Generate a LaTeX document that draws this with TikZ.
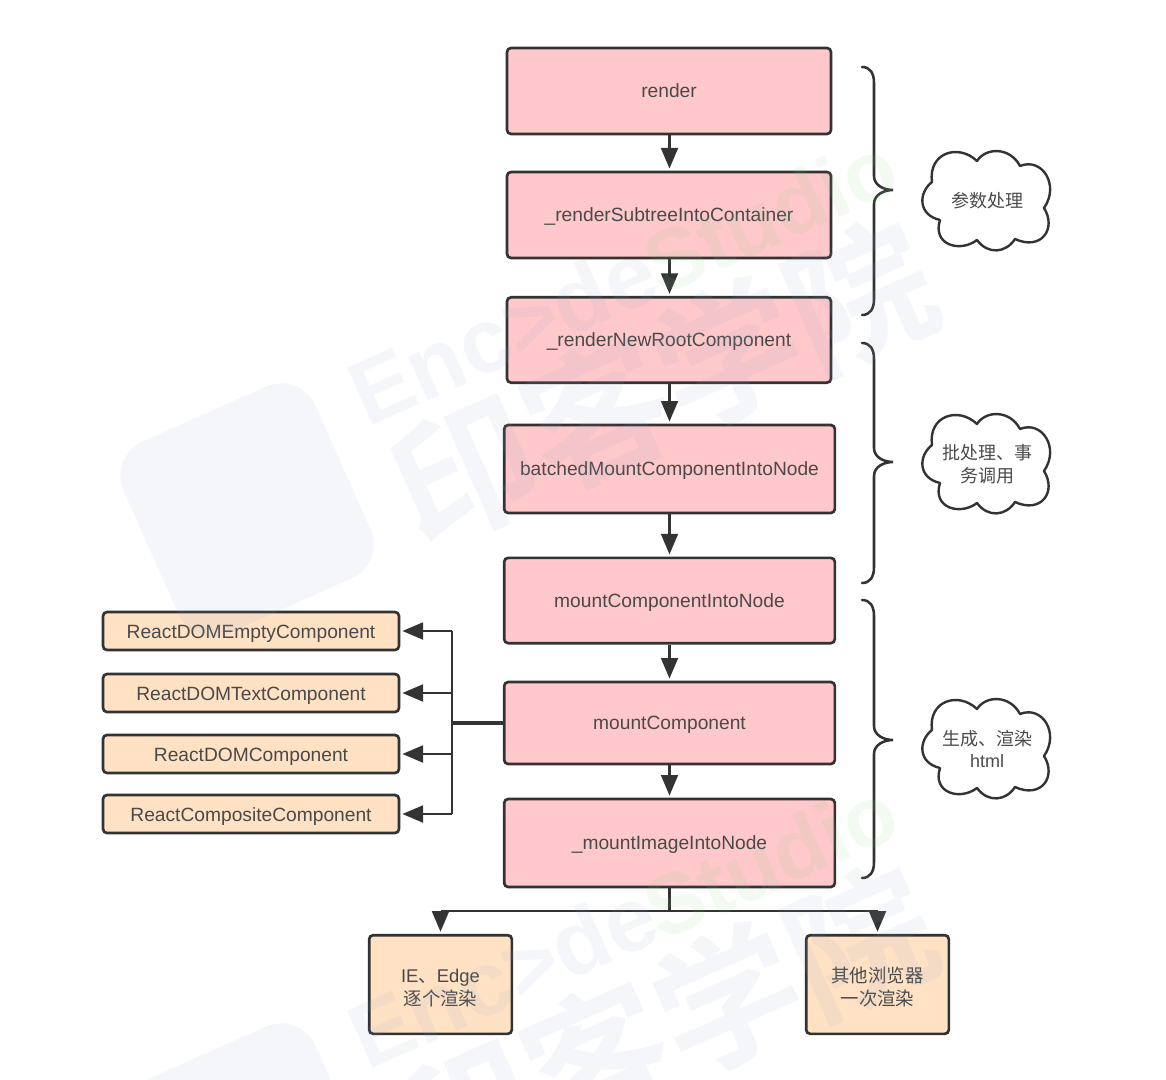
\documentclass[tikz,border=0pt]{standalone}
\usepackage{fontspec}
\setmainfont{Liberation Sans}
\newfontfamily\cjkf{Noto Sans CJK SC}
\newfontfamily\cjkb{Noto Sans CJK SC Bold}
\usetikzlibrary{arrows.meta}
\definecolor{pinkf}{HTML}{FFC8CA}
\definecolor{orangef}{HTML}{FFE1C4}
\definecolor{lne}{HTML}{333333}
\definecolor{txt}{HTML}{4A4A4A}
\definecolor{wmb}{HTML}{8FAACF}
\definecolor{wmg}{HTML}{7CCB84}
\tikzset{
  pinkbox/.style={draw=lne,line width=2pt,fill=pinkf,rounded corners=3pt,text=txt,font=\fontsize{14.4pt}{17pt}\selectfont,inner sep=0pt,text height=10.4pt,text depth=0pt},
  orangebox/.style={draw=lne,line width=2pt,fill=orangef,rounded corners=3pt,text=txt,font=\fontsize{14.4pt}{17pt}\selectfont,inner sep=0pt,text height=11.8pt,text depth=0pt},
  choicebox/.style={draw=lne,line width=2pt,fill=orangef,rounded corners=3pt,text=txt,font=\fontsize{13.8pt}{17pt}\selectfont,inner sep=0pt,align=center},
  conn/.style={draw=lne,line width=2.2pt},
  thickconn/.style={draw=lne,line width=2.6pt},
  arr/.style={conn,-{Triangle[length=15.5pt,width=12.5pt]},shorten >=1.5pt},
  bracesty/.style={draw=lne,line width=1.9pt,line cap=round},
  cloudsty/.style={draw=lne,line width=1.8pt,line join=round},
  cloudtext/.style={text=txt,inner sep=0pt,align=center,font=\fontsize{13.5pt}{17pt}\selectfont},
  wmen/.style={text=wmb,text opacity=0.1,font=\fontsize{68pt}{68pt}\selectfont\bfseries,rotate=24,inner sep=0pt},
  wmgr/.style={text=wmg,text opacity=0.1,font=\fontsize{64pt}{64pt}\selectfont\bfseries,rotate=24,inner sep=0pt},
  wmcn/.style={text=wmb,text opacity=0.1,font=\fontsize{108pt}{108pt}\selectfont\cjkb,rotate=24,inner sep=0pt},
}
\begin{document}
\begin{tikzpicture}[x=0.75pt,y=-0.75pt]
\useasboundingbox (0,0) rectangle (1166,1080);

\node[pinkbox,minimum width=243pt,minimum height=64.5pt] (a) at (669,91) {render};
\node[pinkbox,minimum width=243pt,minimum height=64.5pt] (b) at (669,215) {\_renderSubtreeIntoContainer};
\node[pinkbox,minimum width=243pt,minimum height=64pt] (c) at (669,340) {\_renderNewRootComponent};
\node[pinkbox,minimum width=248pt,minimum height=66pt] (d) at (669.5,469) {batchedMountComponentIntoNode};
\node[pinkbox,minimum width=248pt,minimum height=64pt] (e) at (669.5,600.5) {mountComponentIntoNode};
\node[pinkbox,minimum width=248pt,minimum height=61.5pt] (f) at (669.5,723) {mountComponent};
\node[pinkbox,minimum width=248pt,minimum height=66pt] (g) at (669.5,843) {\_mountImageIntoNode};

\node[orangebox,minimum width=222pt,minimum height=28.5pt] (l1) at (251,631) {ReactDOMEmptyComponent};
\node[orangebox,minimum width=222pt,minimum height=28.5pt] (l2) at (251,693) {ReactDOMTextComponent};
\node[orangebox,minimum width=222pt,minimum height=28.5pt] (l3) at (251,754) {ReactDOMComponent};
\node[orangebox,minimum width=222pt,minimum height=28.5pt] (l4) at (251,814) {ReactCompositeComponent};

\node[choicebox,minimum width=107pt,minimum height=74pt] (ie) at (440.5,984.5) {\rule{0pt}{15pt}IE{\cjkf 、}Edge\\{\cjkf 逐个渲染}};
\node[choicebox,minimum width=107pt,minimum height=74pt] (ot) at (877.5,984.5) {\rule{0pt}{15pt}{\cjkf 其他浏览器}\\{\cjkf 一次渲染}};

\foreach \s/\t in {a/b,b/c,c/d,d/e,e/f,f/g}
  \draw[arr] (\s.south -| 669.5,0) -- (\t.north -| 669.5,0);

\coordinate (trunk) at (452,723);
\coordinate (split) at (669.5,911);
\draw[thickconn] (f.west) -- (trunk);
\draw[conn] (trunk |- l1.east) -- (trunk |- l4.east);
\foreach \t in {l1,l2,l3,l4}
  \draw[arr] (trunk |- \t.east) -- (\t.east);
\draw[conn] (g.south -| split) -- (split);
\draw[conn] (ie.north |- split) -- (ot.north |- split);
\draw[arr] (ie.north |- split) -- (ie.north);
\draw[arr] (ot.north |- split) -- (ot.north);

\coordinate (b1a) at (862,67); \coordinate (b1t) at (893,190); \coordinate (b1b) at (862,315);
\coordinate (b2a) at (862,343); \coordinate (b2t) at (893,462); \coordinate (b2b) at (862,583);
\coordinate (b3a) at (862,600); \coordinate (b3t) at (893,740); \coordinate (b3b) at (862,878);
\foreach \p in {b1,b2,b3}{
  \draw[bracesty] (\p a) .. controls +(8,0) and +(0,-10) .. ([shift={(12,16)}]\p a)
     -- ([shift={(-19,-14)}]\p t) .. controls +(0,10) and +(-8,0) .. (\p t)
     .. controls +(-8,0) and +(0,-10) .. ([shift={(-19,14)}]\p t)
     -- ([shift={(12,-16)}]\p b) .. controls +(0,10) and +(8,0) .. (\p b);
}

\foreach \cx/\cy in {986/201,986/464,986/749}{
  \draw[cloudsty,shift={(\cx,\cy)}] (-46,19)
    .. controls (-68,14) and (-68,-8) .. (-54,-19)
    .. controls (-58,-48) and (-28,-58) .. (-9,-40)
    .. controls (0,-54) and (24,-54) .. (34,-35)
    .. controls (56,-44) and (74,-16) .. (58,7)
    .. controls (71,28) and (55,50) .. (29,38)
    .. controls (20,52) and (2,54) .. (-9,39)
    .. controls (-26,52) and (-54,44) .. (-46,19) -- cycle;
}
\node[cloudtext] (c1) at (987,201) {{\cjkf 参数处理}};
\node[cloudtext] (c2) at (987,464) {{\cjkf 批处理、事}\\{\cjkf 务调用}};
\node[cloudtext] (c3) at (987,749) {{\cjkf 生成、渲染}\\html};

\begin{scope}
\clip (0,0) rectangle (1166,1080);
\fill[wmb,opacity=0.1,rounded corners=28pt,rotate around={24:(247,510)}] (142,405) rectangle (352,615);
\fill[wmb,opacity=0.1,rounded corners=28pt,rotate around={24:(247,1150)}] (142,1045) rectangle (352,1255);
\node[wmen] (wm1) at (503,332) {Enc>de};
\node[wmgr] (wm2) at (770,215) {Studio};
\node[wmcn] (wm3) at (662,383) {\cjkb 印客学院};
\node[wmen] (wm4) at (503,975) {Enc>de};
\node[wmgr] (wm5) at (770,860) {Studio};
\node[wmcn] (wm6) at (662,1028) {\cjkb 印客学院};
\end{scope}
\end{tikzpicture}
\end{document}
